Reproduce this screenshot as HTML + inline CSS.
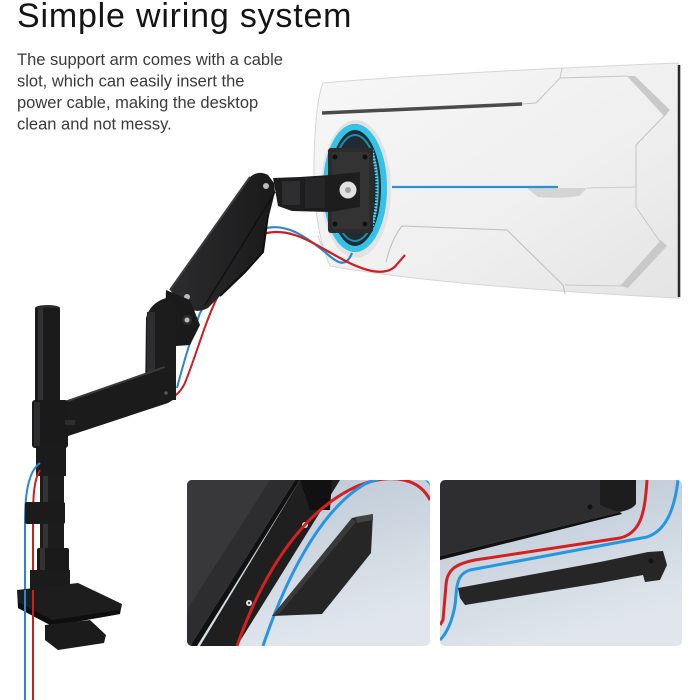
<!DOCTYPE html>
<html><head><meta charset="utf-8"><style>
html,body{margin:0;padding:0;background:#fff;}
#c{position:relative;width:700px;height:700px;overflow:hidden;background:#fff;}
svg{position:absolute;left:0;top:0;}
</style></head><body><div id="c">
<svg width="700" height="700" viewBox="0 0 700 700">
<defs>
<linearGradient id="mon" x1="0" y1="0" x2="1" y2="1">
<stop offset="0" stop-color="#f7f7f7"/><stop offset="0.6" stop-color="#efefef"/><stop offset="1" stop-color="#e4e4e4"/></linearGradient>
<linearGradient id="bg" x1="0" y1="0" x2="0.4" y2="1">
<stop offset="0" stop-color="#b8c5d3"/><stop offset="1" stop-color="#e0e6ec"/></linearGradient>
<linearGradient id="arm" x1="0" y1="0" x2="1" y2="0">
<stop offset="0" stop-color="#2c2c2e"/><stop offset="1" stop-color="#1a1a1b"/></linearGradient>
<clipPath id="c1"><rect x="187" y="480" width="243" height="166" rx="5"/></clipPath>
<clipPath id="c2"><rect x="440" y="480" width="242" height="166" rx="5"/></clipPath>
</defs>

<text x="17" y="27" font-family="Liberation Sans, sans-serif" font-size="34" letter-spacing="0.8" fill="#141414">Simple wiring system</text>
<g font-family="Liberation Sans, sans-serif" font-size="16.5" fill="#3a3a3a">
<text x="17" y="65">The support arm comes with a cable</text>
<text x="17" y="86.5">slot, which can easily insert the</text>
<text x="17" y="108">power cable, making the desktop</text>
<text x="17" y="129.5">clean and not messy.</text>
</g>

<!-- Monitor -->
<path d="M323,83 C400,76 550,68 678,63 L680,66 L680,298 L676,298 C560,292 420,282 330,266 C318,240 313,200 314,160 C315,120 318,95 323,83 Z" fill="url(#mon)" stroke="#d6d6d6" stroke-width="1"/>
<line x1="679" y1="65" x2="679" y2="297" stroke="#2a2a2a" stroke-width="2.5"/>
<path d="M322,113 L522,104" stroke="#4a4a4a" stroke-width="3.5"/>
<path d="M522,104 L536,103 L560,78 L628,76" fill="none" stroke="#c4c4c4" stroke-width="1"/>
<path d="M562,68 L560,78" stroke="#c8c8c8" stroke-width="1"/>
<path d="M627,76 L635,76 L670,110 L664,116 Z" fill="#c9c9c9"/>
<path d="M667,113 L636,145 L636,207 L661,243" fill="none" stroke="#c4c4c4" stroke-width="1"/>
<path d="M661,240 L667,246 L628,288 L620,286 Z" fill="#c9c9c9"/>
<path d="M527,188 L587,188 L579,196 Q560,199 538,197 Z" fill="#d4d4d4"/>
<line x1="587" y1="188" x2="636" y2="187" stroke="#cdcdcd" stroke-width="1"/>
<line x1="392" y1="187" x2="558" y2="187" stroke="#2f8fd4" stroke-width="2.2"/>
<path d="M386,262 Q392,238 402,226 L507,230 L563,285 L565,294" fill="none" stroke="#bdbdbd" stroke-width="1"/>
<path d="M565,285 L622,286" fill="none" stroke="#c8c8c8" stroke-width="1"/>
<path d="M318,235 Q322,250 330,256" fill="none" stroke="#d0d0d0" stroke-width="1"/>
<!-- ring -->
<ellipse cx="356" cy="189" rx="35" ry="69" fill="#e2e2e2"/>
<ellipse cx="355" cy="188" rx="31" ry="64" fill="#1f2b31"/>
<ellipse cx="355" cy="188" rx="29" ry="61" fill="none" stroke="#33c3e6" stroke-width="6"/>
<ellipse cx="355" cy="188" rx="23" ry="53" fill="none" stroke="#1aa6cf" stroke-width="2" opacity="0.8"/>
<path d="M372,150 Q382,188 372,228" fill="none" stroke="#56d0ea" stroke-width="3" stroke-dasharray="1.5 1.5"/>
<rect x="328" y="148" width="45" height="85" rx="3" fill="#2b2b2b"/>
<rect x="332" y="152" width="37" height="77" rx="2" fill="#333"/>
<circle cx="335" cy="157" r="2.5" fill="#111"/><circle cx="365" cy="157" r="2.5" fill="#111"/>
<circle cx="335" cy="224" r="2.5" fill="#111"/><circle cx="365" cy="224" r="2.5" fill="#111"/>

<!-- cables to monitor -->
<path d="M263,229 C285,222 305,236 325,252 C338,264 346,268 352,253" fill="none" stroke="#2b86cf" stroke-width="2.2"/>
<path d="M263,234 C290,226 312,243 340,258 C365,272 388,278 398,263 L405,255" fill="none" stroke="#cf1e22" stroke-width="2.2"/>

<!-- head connector -->
<path d="M273,178 L300,177 L330,175 L360,172 L360,207 L330,212 L292,211 L278,206 Z" fill="#1d1d1e"/>
<rect x="282" y="181" width="18" height="24" fill="#2e2e30"/>
<rect x="305" y="178" width="20" height="30" fill="#262628"/>
<circle cx="348" cy="190" r="8.5" fill="#e2e2e2"/><circle cx="348" cy="190" r="3" fill="#a0a0a0"/>

<!-- cables along arm -->
<path d="M232,262 C215,285 205,305 200,313 C190,340 183,365 177,388" fill="none" stroke="#2b86cf" stroke-width="2"/>
<path d="M240,262 C228,282 222,290 220,292 C205,320 195,360 184,385 C180,392 176,396 171,398" fill="none" stroke="#cf1e22" stroke-width="2"/>

<!-- upper arm -->
<path d="M250,177 Q258,170 268,175 L274,183 L275,192 L268,220 L263,252 L245,272 L220,296 L208,308 Q195,315 183,305 L170,290 Z" fill="url(#arm)"/>
<path d="M250,177 L170,290" stroke="#3c3c3e" stroke-width="2"/>
<path d="M275,192 L205,305" stroke="#111" stroke-width="1.5"/>
<path d="M268,215 L263,252 L245,272 L220,296" fill="none" stroke="#0f0f10" stroke-width="2"/>
<circle cx="266" cy="186" r="3" fill="#bbb"/>
<circle cx="187" cy="297" r="3" fill="#bbb"/>
<!-- elbow -->
<path d="M166,290 L190,300 L200,325 L190,345 L176,346 L165,320 Z" fill="#1a1a1b"/>
<circle cx="187" cy="320" r="5" fill="#2d2d2f"/><circle cx="187" cy="320" r="2.5" fill="#bbb"/>
<path d="M146,318 Q150,303 166,298 L176,305 L176,400 L145,400 Z" fill="#1c1c1d"/>
<rect x="147" y="312" width="8" height="86" fill="#2e2e30"/>
<!-- lower arm -->
<path d="M62,403 L165,367 L176,373 L176,398 L168,403 L65,437 Z" fill="#1b1b1c"/>
<path d="M62,403 L165,367" stroke="#3a3a3c" stroke-width="2"/>
<circle cx="166" cy="393" r="1.8" fill="#555"/>
<!-- pole -->
<ellipse cx="47.5" cy="308" rx="12.5" ry="3" fill="#2a2a2a"/>
<rect x="35" y="308" width="25" height="96" fill="#1b1b1c"/>
<rect x="38" y="308" width="5" height="96" fill="#303032"/>
<rect x="32" y="400" width="36" height="48" rx="3" fill="#1a1a1b"/>
<rect x="34" y="402" width="6" height="44" fill="#2e2e30"/>
<rect x="65" y="420" width="10" height="5" fill="#2d2d2d"/>
<rect x="36" y="446" width="30" height="30" fill="#1b1b1c"/>
<rect x="40" y="476" width="24" height="75" fill="#1c1c1d"/>
<rect x="43" y="476" width="5" height="75" fill="#333"/>
<path d="M40,463 C30,470 25,490 25,520 L25,700" fill="none" stroke="#2b86cf" stroke-width="2"/>
<path d="M40,470 C34,480 33,495 33,520 L33,700" fill="none" stroke="#cf1e22" stroke-width="2"/>
<rect x="25" y="502" width="40" height="22" rx="2" fill="#1b1b1c"/>
<rect x="37" y="548" width="32" height="30" rx="2" fill="#1a1a1b"/>
<rect x="40" y="548" width="5" height="30" fill="#333"/>
<path d="M30,570 L70,570 L70,595 L30,598 Z" fill="#1b1b1c"/>
<path d="M17,590 L78,583 L122,604 L120,614 L52,626 L18,608 Z" fill="#1d1d1e"/>
<path d="M18,608 L52,626 L120,614 L120,610 L52,620 L18,602 Z" fill="#0e0e0f"/>
<path d="M45,625 L90,620 L106,635 L104,643 L58,650 L45,640 Z" fill="#1b1b1c"/>
<path d="M25,590 L25,700" stroke="#2b86cf" stroke-width="2"/>
<path d="M33,590 L33,700" stroke="#cf1e22" stroke-width="2"/>

<!-- inset left -->
<g clip-path="url(#c1)">
<rect x="187" y="480" width="243" height="166" fill="url(#bg)"/>
<path d="M187,480 L295,480 L190,646 L187,646 Z" fill="#2d2d2f"/>
<path d="M187,480 L270,480 L187,610 Z" fill="#38383a"/>
<path d="M295,480 L300,480 L197,646 L190,646 Z" fill="#111"/>
<path d="M300,480 L340,480 L237,646 L200,646 Z" fill="#1f1f20"/>
<path d="M300,480 L332,480 L330,510 L310,510 Z" fill="#111"/>
<circle cx="305" cy="525" r="3" fill="#e8e8e8"/><circle cx="305" cy="525" r="1.2" fill="#444"/>
<circle cx="249" cy="603" r="3" fill="#e8e8e8"/><circle cx="249" cy="603" r="1.2" fill="#444"/>
<path d="M237,646 C260,580 300,510 360,485 C395,472 420,480 430,500" fill="none" stroke="#d42020" stroke-width="3"/>
<path d="M263,646 C285,580 320,510 365,484 L378,479" fill="none" stroke="#2796e0" stroke-width="3"/>
<path d="M426,479 L432,485" stroke="#2796e0" stroke-width="3"/>
<path d="M272,616 L352,518 L373,514 L371,553 L322,614 Z" fill="#262627"/>
<path d="M272,616 L352,518 L356,522 L280,613 Z" fill="#3a3a3b"/>
<path d="M355,517 L373,514 L373,520 L357,523 Z" fill="#444"/>
</g>

<!-- inset right -->
<g clip-path="url(#c2)">
<rect x="440" y="480" width="242" height="166" fill="url(#bg)"/>
<path d="M440,480 L632,480 L633,505 Q630,510 620,512 L440,556 Z" fill="#2e2e30"/>
<path d="M440,556 L620,512 L622,514 L440,560 Z" fill="#111"/>
<path d="M600,480 L636,480 L636,504 Q630,512 615,511 L600,505 Z" fill="#1d1d1e"/>
<circle cx="590" cy="507" r="2.5" fill="#111"/>
<path d="M647,480 C645,510 642,533 620,538 L475,560 C455,564 447,570 446,585 L443,620 L440,625" fill="none" stroke="#d42020" stroke-width="3"/>
<path d="M678,480 C675,505 668,530 647,537 L470,570 C460,573 457,580 456,595 C455,615 448,632 440,640" fill="none" stroke="#2796e0" stroke-width="3"/>
<path d="M458,588 L600,562 L648,552 L663,551 L667,565 L660,580 L645,582 L643,575 L600,583 L465,605 L460,598 Z" fill="#262627"/>
<circle cx="651" cy="561" r="2.5" fill="#111"/>
</g>
</svg>
</div></body></html>
